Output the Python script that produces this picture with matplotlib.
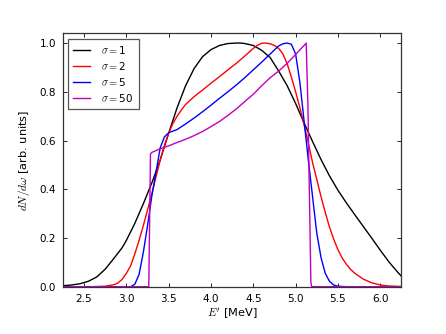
import matplotlib
matplotlib.use("Agg")
import matplotlib.pyplot as plt

# sigma = 1 (black)
e_s1 = [2.25, 2.35, 2.45, 2.55, 2.65, 2.75, 2.85, 2.95, 3.0, 3.1, 3.2, 3.3, 3.4, 3.5, 3.6, 3.7,
        3.8, 3.9, 4.0, 4.1, 4.2, 4.3, 4.35, 4.4, 4.5, 4.6, 4.7, 4.8, 4.9, 5.0, 5.1, 5.15, 5.2,
        5.3, 5.4, 5.5, 5.6, 5.7, 5.8, 5.9, 6.0, 6.1, 6.2, 6.25]
v_s1 = [0.004, 0.007, 0.012, 0.022, 0.040, 0.072, 0.115, 0.160, 0.190, 0.260, 0.340, 0.425,
        0.520, 0.630, 0.735, 0.825, 0.895, 0.944, 0.973, 0.990, 0.998, 1.0, 1.0, 0.998, 0.990,
        0.970, 0.940, 0.885, 0.825, 0.752, 0.672, 0.634, 0.596, 0.522, 0.455, 0.396, 0.344,
        0.295, 0.247, 0.199, 0.150, 0.103, 0.062, 0.043]

# sigma = 2 (red)
e_s2 = [2.25, 2.6, 2.75, 2.85, 2.9, 2.95, 3.0, 3.05, 3.1, 3.15, 3.2, 3.25, 3.3, 3.35, 3.4, 3.45,
        3.5, 3.55, 3.6, 3.65, 3.7, 3.8, 3.9, 4.0, 4.1, 4.2, 4.3, 4.4, 4.5, 4.55, 4.6, 4.65, 4.7,
        4.75, 4.8, 4.85, 4.9, 4.95, 5.0, 5.05, 5.1, 5.15, 5.2, 5.25, 5.3, 5.35, 5.4, 5.45, 5.5,
        5.55, 5.6, 5.65, 5.7, 5.8, 5.9, 6.0, 6.1, 6.25]
v_s2 = [0.0, 0.0, 0.002, 0.008, 0.015, 0.030, 0.055, 0.085, 0.135, 0.190, 0.250, 0.315, 0.380,
        0.450, 0.520, 0.580, 0.630, 0.670, 0.700, 0.725, 0.748, 0.780, 0.807, 0.835, 0.862,
        0.890, 0.917, 0.947, 0.978, 0.991, 0.999, 1.0, 0.997, 0.990, 0.978, 0.955, 0.915, 0.860,
        0.800, 0.735, 0.665, 0.590, 0.510, 0.440, 0.370, 0.305, 0.245, 0.195, 0.152, 0.118,
        0.092, 0.071, 0.055, 0.031, 0.016, 0.007, 0.003, 0.001]

# sigma = 5 (blue)
e_s5 = [2.25, 3.05, 3.1, 3.15, 3.2, 3.25, 3.3, 3.35, 3.4, 3.45, 3.5, 3.6, 3.7, 3.8, 3.9, 4.0,
        4.1, 4.2, 4.3, 4.4, 4.5, 4.6, 4.7, 4.75, 4.8, 4.85, 4.9, 4.95, 5.0, 5.05, 5.1, 5.15,
        5.2, 5.25, 5.3, 5.35, 5.4, 5.45, 5.5, 5.6, 6.25]
v_s5 = [0.0, 0.0, 0.010, 0.050, 0.140, 0.250, 0.370, 0.470, 0.570, 0.615, 0.632, 0.645, 0.668,
        0.692, 0.718, 0.745, 0.773, 0.800, 0.828, 0.858, 0.890, 0.922, 0.955, 0.972, 0.988,
        0.997, 1.0, 0.995, 0.955, 0.840, 0.680, 0.520, 0.370, 0.220, 0.120, 0.055, 0.022,
        0.007, 0.002, 0.0, 0.0]

# sigma = 50 (magenta)
e_s50 = [2.25, 3.265, 3.285, 3.3, 3.4, 3.5, 3.6, 3.7, 3.8, 3.9, 4.0, 4.1, 4.2, 4.3, 4.4, 4.5,
         4.6, 4.7, 4.8, 4.9, 5.0, 5.1, 5.125, 5.145, 5.165, 5.18, 5.19, 6.25]
v_s50 = [0.0, 0.0, 0.545, 0.551, 0.566, 0.578, 0.592, 0.605, 0.620, 0.637, 0.657, 0.678, 0.703,
         0.730, 0.760, 0.790, 0.825, 0.858, 0.885, 0.917, 0.953, 0.990, 1.0, 0.750, 0.340,
         0.020, 0.0, 0.0]

labels = [r"$\sigma=$1", r"$\sigma=$2", r"$\sigma=$5", r"$\sigma=$50"]
colors = ["k", "r", "b", "m"]

plt.rcParams["mathtext.fontset"] = "cm"
plt.rcParams["font.family"] = "DejaVu Sans"
plt.rcParams["font.size"] = 7.5

fig = plt.figure(figsize=(4.46, 3.34), dpi=100)
ax = fig.add_axes([0.141, 0.1416, 0.759, 0.7587])

series = [(e_s1, v_s1), (e_s2, v_s2), (e_s5, v_s5), (e_s50, v_s50)]
for (e, v), c, lab in zip(series, colors, labels):
    ax.plot(e, v, color=c, lw=1.0, label=lab)

ax.set_xlim(2.25, 6.25)
ax.set_ylim(0, 1.04)
ax.set_xticks([2.5, 3.0, 3.5, 4.0, 4.5, 5.0, 5.5, 6.0])
ax.set_yticks([0.0, 0.2, 0.4, 0.6, 0.8, 1.0])
ax.tick_params(direction="in", top=True, right=True, length=3, width=0.6, labelsize=7.5, pad=5)
for s in ax.spines.values():
    s.set_linewidth(0.9)
    s.set_color("#333333")

ax.set_xlabel(r"$E'$ [MeV]", fontsize=8.2, labelpad=2)
ax.set_ylabel(r"$dN/d\omega$ [arb. units]", fontsize=8.2, labelpad=5)

leg = ax.legend(loc="upper left", fontsize=7.5, fancybox=False, framealpha=1,
                handlelength=1.6, borderaxespad=0.5, borderpad=0.5, labelspacing=0.38,
                handletextpad=1.1)
leg.get_frame().set_edgecolor("#555555")
leg.get_frame().set_linewidth(0.9)

fig.savefig("out.png", dpi=100, facecolor="white")
